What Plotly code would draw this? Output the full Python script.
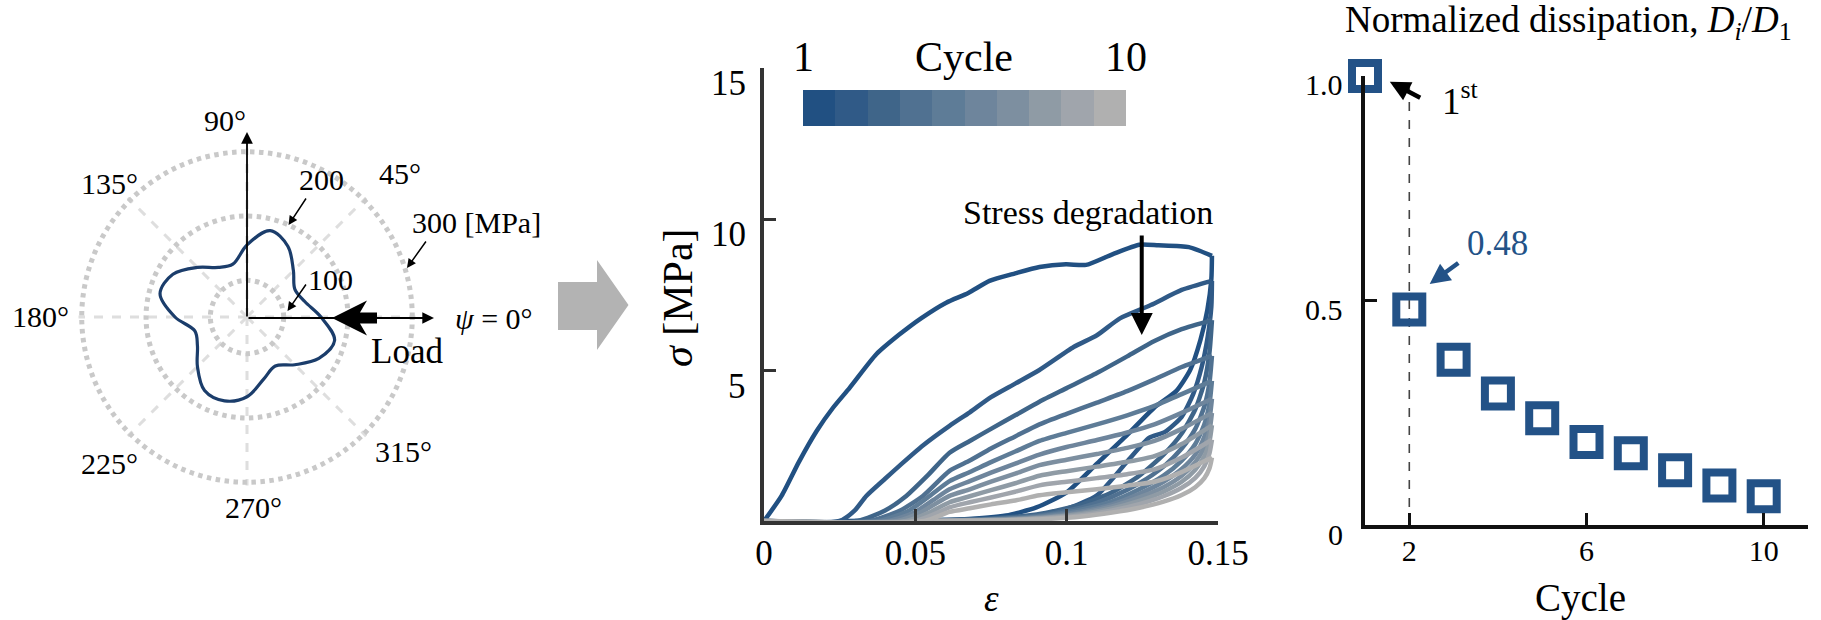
import plotly.graph_objects as go

W, H = 1821, 620
SERIF = "Liberation Serif"

# ---------------- polar panel: stress profile vs. loading angle ----------------
psi_deg = [0, 15, 30, 45, 60, 75, 90, 105, 120, 135, 150, 165,
           180, 195, 210, 225, 240, 255, 270, 285, 300, 315, 330, 345]
sigma_psi = [158, 136, 129, 145, 170, 182, 155, 128, 132, 152, 176, 183,
             155, 127, 132, 152, 175, 178, 167, 143, 131, 148, 172, 184]
polar_ticks = [0, 45, 90, 135, 180, 225, 270, 315]
radial_ticks = [100, 200, 300]

# ---------------- cyclic stress-strain curves (strain, stress in MPa) ----------------
eps_1 = [0, 0.0058, 0.0115, 0.0174, 0.0228, 0.0283, 0.0371, 0.0448, 0.052, 0.0602, 0.0675, 0.0745,
         0.083, 0.091, 0.0998, 0.1064, 0.1151, 0.124, 0.1303, 0.1404, 0.148,
         0.1478, 0.1465, 0.1442, 0.1408, 0.1362, 0.1289, 0.12, 0.11, 0.1, 0.09, 0.08, 0.065, 0.045, 0.025]
sig_1 = [0, 0.83, 1.95, 2.98, 3.75, 4.41, 5.52, 6.18, 6.72, 7.23, 7.55, 7.95,
         8.2, 8.41, 8.5, 8.48, 8.83, 9.15, 9.13, 9.07, 8.78,
         8.0, 7.0, 6.0, 5.0, 4.3, 3.75, 2.85, 1.9, 0.95, 0.45, 0.18, 0.05, 0.01, 0]

eps_2 = [0, 0.025, 0.03, 0.0338, 0.04, 0.045, 0.0525, 0.0613, 0.068, 0.075, 0.083, 0.091, 0.1023,
         0.11, 0.1176, 0.1278, 0.138, 0.148,
         0.1478, 0.1466, 0.1446, 0.1418, 0.138, 0.1325, 0.1272, 0.12, 0.11, 0.1, 0.09, 0.075, 0.055, 0.03]
sig_2 = [0, 0, 0.35, 0.83, 1.4, 1.85, 2.5, 3.15, 3.6, 4.1, 4.55, 5.0, 5.76,
         6.15, 6.71, 7.15, 7.65, 7.95,
         7.1, 6.1, 5.1, 4.2, 3.45, 2.95, 2.75, 1.97, 0.85, 0.4, 0.18, 0.06, 0.02, 0]

eps_3 = [0, 0.031, 0.04, 0.047, 0.054, 0.0613, 0.068, 0.075, 0.083, 0.091, 0.1, 0.11, 0.12, 0.129, 0.138, 0.148,
         0.1472, 0.1455, 0.1425, 0.138, 0.132, 0.124, 0.115, 0.105, 0.092, 0.075, 0.035]
sig_3 = [0, 0, 0.35, 0.83, 1.5, 2.26, 2.65, 3.05, 3.5, 3.95, 4.4, 4.9, 5.45, 5.96, 6.35, 6.65,
         5.6, 4.6, 3.7, 2.9, 2.2, 1.5, 0.95, 0.55, 0.25, 0.08, 0]

eps_4 = [0, 0.035, 0.045, 0.0525, 0.0613, 0.068, 0.075, 0.083, 0.091, 0.1, 0.11, 0.12, 0.129, 0.138, 0.148,
         0.1472, 0.1455, 0.1425, 0.138, 0.132, 0.124, 0.115, 0.105, 0.092, 0.075, 0.038]
sig_4 = [0, 0, 0.35, 0.83, 1.66, 2.0, 2.4, 2.8, 3.2, 3.55, 3.92, 4.3, 4.69, 5.1, 5.47,
         4.6, 3.8, 3.05, 2.4, 1.8, 1.25, 0.8, 0.45, 0.2, 0.06, 0]

eps_5 = [0, 0.038, 0.048, 0.055, 0.0613, 0.068, 0.075, 0.083, 0.091, 0.1, 0.11, 0.12, 0.129, 0.138, 0.148,
         0.1472, 0.1455, 0.1425, 0.138, 0.132, 0.124, 0.115, 0.105, 0.092, 0.075, 0.041]
sig_5 = [0, 0, 0.35, 0.85, 1.32, 1.62, 1.95, 2.3, 2.65, 2.92, 3.2, 3.5, 3.81, 4.2, 4.64,
         3.9, 3.2, 2.55, 2.0, 1.5, 1.05, 0.65, 0.38, 0.17, 0.05, 0]

eps_6 = [0, 0.041, 0.05, 0.056, 0.0613, 0.068, 0.075, 0.083, 0.091, 0.1, 0.11, 0.12, 0.129, 0.138, 0.148,
         0.1472, 0.1455, 0.1425, 0.138, 0.132, 0.124, 0.115, 0.105, 0.092, 0.075, 0.044]
sig_6 = [0, 0, 0.3, 0.7, 1.05, 1.32, 1.6, 1.9, 2.2, 2.45, 2.68, 2.93, 3.2, 3.58, 4.05,
         3.4, 2.8, 2.2, 1.72, 1.3, 0.9, 0.55, 0.32, 0.14, 0.04, 0]

eps_7 = [0, 0.044, 0.052, 0.0613, 0.068, 0.075, 0.083, 0.091, 0.1, 0.11, 0.12, 0.129, 0.138, 0.148,
         0.1472, 0.1455, 0.1425, 0.138, 0.132, 0.124, 0.115, 0.105, 0.092, 0.075, 0.047]
sig_7 = [0, 0, 0.3, 0.83, 1.05, 1.3, 1.57, 1.85, 2.03, 2.22, 2.42, 2.65, 3.05, 3.58,
         3.0, 2.45, 1.95, 1.5, 1.12, 0.78, 0.48, 0.27, 0.12, 0.03, 0]

eps_8 = [0, 0.047, 0.055, 0.0613, 0.068, 0.075, 0.083, 0.091, 0.1, 0.11, 0.12, 0.129, 0.138, 0.148,
         0.1472, 0.1455, 0.1425, 0.138, 0.132, 0.124, 0.115, 0.105, 0.092, 0.075, 0.05]
sig_8 = [0, 0, 0.3, 0.62, 0.82, 1.02, 1.25, 1.5, 1.65, 1.8, 1.96, 2.15, 2.55, 3.17,
         2.65, 2.15, 1.7, 1.3, 0.97, 0.67, 0.42, 0.23, 0.1, 0.03, 0]

eps_9 = [0, 0.05, 0.058, 0.0613, 0.068, 0.075, 0.083, 0.091, 0.1, 0.11, 0.12, 0.129, 0.138, 0.148,
         0.1472, 0.1455, 0.1425, 0.138, 0.132, 0.124, 0.115, 0.105, 0.092, 0.075, 0.053]
sig_9 = [0, 0, 0.3, 0.45, 0.62, 0.78, 0.97, 1.18, 1.3, 1.42, 1.55, 1.71, 2.1, 2.69,
         2.25, 1.82, 1.43, 1.1, 0.82, 0.56, 0.35, 0.19, 0.08, 0.02, 0]

eps_10 = [0, 0.053, 0.0613, 0.068, 0.075, 0.083, 0.091, 0.1, 0.11, 0.12, 0.129, 0.138, 0.148,
          0.1472, 0.1455, 0.1425, 0.138, 0.132, 0.124, 0.115, 0.105, 0.092, 0.075, 0.056]
sig_10 = [0, 0, 0.3, 0.42, 0.55, 0.68, 0.85, 0.95, 1.05, 1.17, 1.3, 1.62, 2.10,
          1.75, 1.42, 1.12, 0.86, 0.64, 0.44, 0.28, 0.15, 0.06, 0.02, 0]

cycle_colors = ["#215082", "#305a87", "#3f6589", "#507191", "#5e7c97",
                "#6e859c", "#7d8fa0", "#8f9ba5", "#a0a5ac", "#b0b0b0"]
cycle_ids = [1, 2, 3, 4, 5, 6, 7, 8, 9, 10]
stress_ticks = [5, 10, 15]

# ---------------- normalized dissipation per cycle ----------------
cycle_no = [1, 2, 3, 4, 5, 6, 7, 8, 9, 10]
dissipation = [1.0, 0.48, 0.368, 0.293, 0.238, 0.185, 0.160, 0.122, 0.088, 0.064]
dissipation_ticks = [0, 0.5, 1.0]
dissipation_ticktext = ["0", "0.5", "1.0"]

BLUE = "#235287"


def px(x):
    return x / W


def py(y):
    return 1 - y / H


fig = go.Figure()

# polar stress profile
fig.add_trace(go.Scatterpolar(
    r=sigma_psi + sigma_psi[:1], theta=psi_deg + psi_deg[:1], mode="lines",
    line=dict(color="#1b3d6b", width=3.2, shape="spline", smoothing=1.0),
    hoverinfo="skip"))

# stress-strain loops, loading and unloading branches
curves = [(eps_1, sig_1), (eps_2, sig_2), (eps_3, sig_3), (eps_4, sig_4), (eps_5, sig_5),
          (eps_6, sig_6), (eps_7, sig_7), (eps_8, sig_8), (eps_9, sig_9), (eps_10, sig_10)]
for (e, s), col in zip(curves, cycle_colors):
    k = e.index(max(e))
    for xs, ys in ((e[:k + 1], s[:k + 1]), (e[k:], s[k:])):
        fig.add_trace(go.Scatter(x=xs, y=ys, mode="lines", xaxis="x", yaxis="y",
                                 line=dict(color=col, width=4.5, shape="spline", smoothing=0.6),
                                 hoverinfo="skip"))

# discrete cycle colour strip
scale = []
for i, c in enumerate(cycle_colors):
    scale += [[i / 10, c], [(i + 1) / 10, c]]
fig.add_trace(go.Heatmap(z=[cycle_ids], x=cycle_ids, y=[0], xaxis="x3", yaxis="y3",
                         colorscale=scale, zmin=0.5, zmax=10.5, showscale=False,
                         hoverinfo="skip"))

# dissipation panel
fig.add_trace(go.Scatter(x=[cycle_no[1], cycle_no[1]], y=[0, dissipation[0]], mode="lines",
                         xaxis="x2", yaxis="y2",
                         line=dict(color="#444444", width=1.6, dash="dash"), hoverinfo="skip"))
fig.add_trace(go.Scatter(x=cycle_no, y=dissipation, mode="markers", xaxis="x2", yaxis="y2",
                         marker=dict(symbol="square-open", size=26, color=BLUE,
                                     line=dict(width=8, color=BLUE)),
                         cliponaxis=False, hoverinfo="skip"))

mid_axis = dict(showline=True, linecolor="#333333", linewidth=3.5, ticks="inside",
                ticklen=12, tickwidth=2.5, tickcolor="#333333", showgrid=False,
                zeroline=False, automargin=False,
                tickfont=dict(family=SERIF, size=35, color="black"))
right_axis = dict(showline=True, linecolor="#111111", linewidth=4, ticks="inside",
                  ticklen=12, tickwidth=3, tickcolor="#111111", showgrid=False,
                  zeroline=False, automargin=False,
                  tickfont=dict(family=SERIF, size=30, color="black"))

fig.update_layout(
    width=W, height=H, margin=dict(l=0, r=0, t=0, b=0, pad=0, autoexpand=False),
    paper_bgcolor="white", plot_bgcolor="white", showlegend=False,
    font=dict(family=SERIF, color="black"),
    polar=dict(
        domain=dict(x=[px(78.5), px(415.5)], y=[py(485.5), py(148.5)]),
        bgcolor="white",
        radialaxis=dict(range=[43, 305], tickvals=radial_ticks, showticklabels=False,
                        ticks="", showline=False, gridcolor="#c9c9c9", griddash="dot",
                        gridwidth=4.5),
        angularaxis=dict(tickvals=polar_ticks, showticklabels=False, ticks="",
                         showline=False, gridcolor="#dedede", griddash="dash",
                         gridwidth=2.5, direction="counterclockwise", rotation=0),
    ),
    xaxis=dict(domain=[px(764), px(1218)], range=[0, 0.15],
               tickvals=[0, 0.05, 0.1, 0.15], ticktext=["0", "0.05", "0.1", "0.15"],
               ticklabelstandoff=-2, anchor="y", **mid_axis),
    yaxis=dict(domain=[py(521), py(68)], range=[0, 15], tickvals=stress_ticks,
               showticklabels=False, anchor="x", **mid_axis),
    xaxis2=dict(domain=[px(1365), px(1808)], range=[1, 11], tickvals=[2, 6, 10],
                ticklabelstandoff=-4, anchor="y2", **right_axis),
    yaxis2=dict(domain=[py(525), py(76)], range=[0, 1], tickvals=dissipation_ticks,
                showticklabels=False, anchor="x2", **right_axis),
    xaxis3=dict(domain=[px(803), px(1126)], range=[0.5, 10.5], visible=False, anchor="y3"),
    yaxis3=dict(domain=[py(126), py(90)], range=[-0.5, 0.5], visible=False, anchor="x3"),
)

ann = []

# y tick labels, set slightly below their ticks
for v in stress_ticks:
    ann.append(dict(x=px(748), y=v, xref="paper", yref="y", text=str(v), showarrow=False,
                    xanchor="right", yanchor="middle", yshift=-16,
                    font=dict(family=SERIF, size=35, color="black")))
for v, t in zip(dissipation_ticks, dissipation_ticktext):
    ann.append(dict(x=px(1345), y=v, xref="paper", yref="y2", text=t, showarrow=False,
                    xanchor="right", yanchor="middle", yshift=-9,
                    font=dict(family=SERIF, size=30, color="black")))


def label(x, y, text, size, color="black", **kw):
    ann.append(dict(x=px(x), y=py(y), xref="paper", yref="paper", text=text, showarrow=False,
                    font=dict(family=SERIF, size=size, color=color), xanchor="center",
                    yanchor="middle", **kw))


def arrow(x0, y0, x1, y1, width=1.6, head=2, size=1.2, color="black"):
    # arrow from (x0, y0) to the tip (x1, y1), pixel positions
    ann.append(dict(x=px(x1), y=py(y1), xref="paper", yref="paper", ax=x0 - x1, ay=y0 - y1,
                    axref="pixel", ayref="pixel", text="", showarrow=True, arrowhead=head,
                    arrowsize=size, arrowwidth=width, arrowcolor=color))


# polar labels
label(225, 120, "90°", 30)
label(109, 183, "135°", 30)
label(400, 173, "45°", 30)
label(321, 179, "200", 30)
label(476, 223, "300 [MPa]", 30)
label(330, 279, "100", 30)
label(40, 317, "180°", 30)
label(494, 318, "<i>ψ</i> = 0°", 30)
label(407, 351, "Load", 35)
label(109, 463, "225°", 30)
label(403, 451, "315°", 30)
label(253, 507, "270°", 30)

arrow(247, 318, 247, 132, width=1.8, size=1.3)
arrow(247, 318, 434, 318, width=1.8, size=1.3)
arrow(307, 197, 288.5, 225, width=1.5, size=1.2)
arrow(427, 240, 407, 268, width=1.5, size=1.2)
arrow(307, 283, 287.5, 311, width=1.5, size=1.2)

# stress-strain labels
label(678, 298, "<i>σ</i> [MPa]", 42, textangle=-90)
label(991, 598, "<i>ε</i>", 37)
label(803, 57, "1", 42)
label(964, 57, "Cycle", 42)
label(1126, 57, "10", 42)
ann.append(dict(x=0.107, y=10.2, xref="x", yref="y", text="Stress degradation", showarrow=False,
                font=dict(family=SERIF, size=34, color="black")))
ann.append(dict(x=0.1248, y=6.16, xref="x", yref="y", ax=0.1248, ay=9.5, axref="x", ayref="y",
                text="", showarrow=True, arrowhead=2, arrowsize=1.1, arrowwidth=4,
                arrowcolor="black"))

# dissipation labels
label(1568, 22, "Normalized dissipation, <i>D<sub>i</sub></i>/<i>D</i><sub>1</sub>", 37)
label(1580, 598, "Cycle", 39)
ann.append(dict(x=3.15, y=0.95, xref="x2", yref="y2", text="1<sup>st</sup>", showarrow=False,
                font=dict(family=SERIF, size=37, color="black")))
ann.append(dict(x=1.56, y=0.987, xref="x2", yref="y2", ax=2.28, ay=0.95, axref="x2", ayref="y2",
                text="", showarrow=True, arrowhead=2, arrowsize=0.9, arrowwidth=4.5,
                arrowcolor="black"))
ann.append(dict(x=4.0, y=0.627, xref="x2", yref="y2", text="0.48", showarrow=False,
                font=dict(family=SERIF, size=35, color=BLUE)))
ann.append(dict(x=2.46, y=0.537, xref="x2", yref="y2", ax=3.14, ay=0.586, axref="x2", ayref="y2",
                text="", showarrow=True, arrowhead=2, arrowsize=0.9, arrowwidth=4.5,
                arrowcolor=BLUE))

fig.update_layout(annotations=ann)


def poly(points):
    return "M " + " L ".join(f"{px(x):.5f},{py(y):.5f}" for x, y in points) + " Z"


fig.update_layout(shapes=[
    # thick "Load" arrow
    dict(type="path", xref="paper", yref="paper", line=dict(width=0), fillcolor="black",
         path=poly([(332, 318), (367, 300.5), (360, 312.5), (377, 312.5), (377, 323.5),
                    (360, 323.5), (367, 335.5)])),
    # grey arrow between panels
    dict(type="path", xref="paper", yref="paper", line=dict(width=0), fillcolor="#b3b3b3",
         path=poly([(558, 282), (597, 282), (597, 260), (628.5, 305), (597, 350),
                    (597, 330), (558, 330)])),
])

fig.write_html("out.html")
